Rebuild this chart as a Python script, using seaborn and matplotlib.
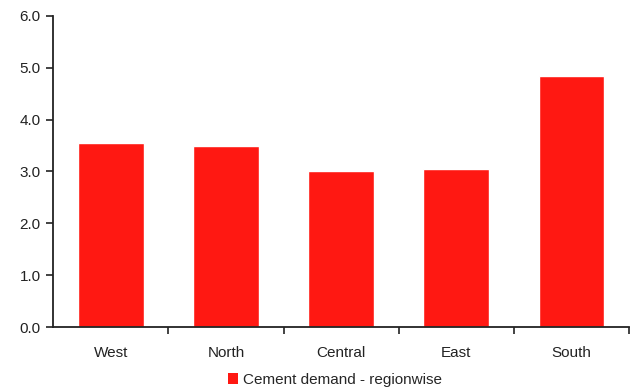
import matplotlib
matplotlib.use('agg')
import matplotlib.pyplot as plt
import seaborn as sns
import pandas as pd
from matplotlib.patches import Patch

regions = ['West', 'North', 'Central', 'East', 'South']
demand = [3.55, 3.5, 3.0, 3.05, 4.85]
series_name = 'Cement demand - regionwise'

bar_color = '#FF1812'

sns.set_style('white')
plt.rcParams['font.family'] = ['Liberation Sans', 'DejaVu Sans']

df = pd.DataFrame({'region': regions, 'demand': demand})

fig = plt.figure(figsize=(6.4, 3.87), dpi=100)
ax = fig.add_axes([0.083, 0.155, 0.9, 0.804])

sns.barplot(data=df, x='region', y='demand', color=bar_color, saturation=1,
            width=0.57, ax=ax)

ax.set_ylim(0, 6)
ax.set_xlim(-0.5, len(regions) - 0.5)
ax.set_yticks([0, 1, 2, 3, 4, 5, 6])
ax.set_yticklabels(['%.1f' % v for v in range(7)])
ax.set_xlabel('')
ax.set_ylabel('')

# ticks between categories, labels at centres
ax.set_xticks([i + 0.5 for i in range(len(regions))])
ax.set_xticklabels([])
ax.set_xticks(range(len(regions)), minor=True)
ax.set_xticklabels(regions, minor=True)
ax.tick_params(axis='x', which='major', direction='out', length=5, width=1.2,
               color='#222222', bottom=True)
ax.tick_params(axis='x', which='minor', length=0, pad=14, labelsize=11,
               labelcolor='#222222')
ax.tick_params(axis='y', direction='out', length=5, width=1.2,
               color='#222222', left=True, labelsize=11, labelcolor='#222222', pad=4)

for s in ['top', 'right']:
    ax.spines[s].set_visible(False)
for s in ['left', 'bottom']:
    ax.spines[s].set_color('#222222')
    ax.spines[s].set_linewidth(1.3)

handle = Patch(facecolor=bar_color, edgecolor='none')
fig.legend([handle], [series_name], loc='lower center',
           bbox_to_anchor=(0.523, -0.035), frameon=False, fontsize=11,
           handlelength=0.7, handleheight=0.7, handletextpad=0.3)

fig.savefig('out.png', dpi=100)
